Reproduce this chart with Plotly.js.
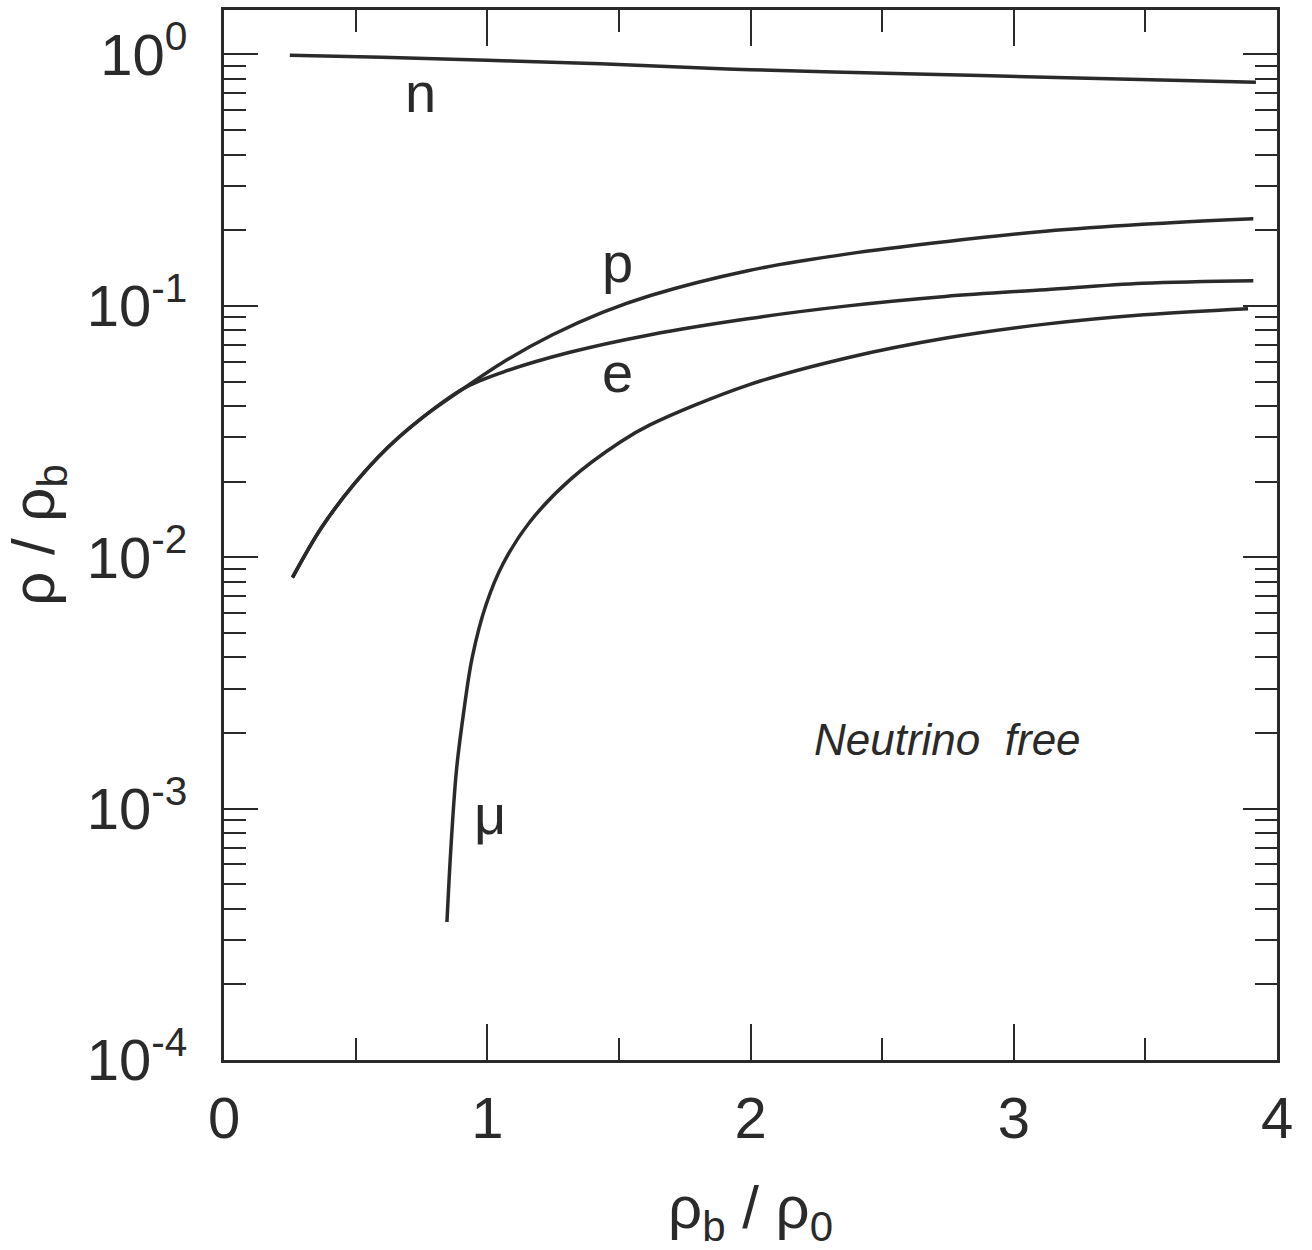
<!DOCTYPE html>
<html>
<head>
<meta charset="utf-8">
<script src="https://cdn.plot.ly/plotly-3.0.1.min.js"></script>
<style>
  html, body { margin: 0; padding: 0; background: #ffffff; }
  #chart { width: 1312px; height: 1250px; }
</style>
</head>
<body>
<div id="chart"></div>
<script>
// ---- data ----
const nX  = [0.25, 0.6, 1.0, 1.43, 2.0, 2.63, 3.2, 3.92];
const nY  = [0.993, 0.975, 0.949, 0.918, 0.870, 0.837, 0.808, 0.776];

const pX  = [0.26, 0.37, 0.49, 0.62, 0.75, 0.91, 1.06, 1.25, 1.44, 1.62, 1.99, 2.37, 2.74, 3.12, 3.49, 3.91];
const pY  = [0.0083, 0.0131, 0.0193, 0.0272, 0.0357, 0.0469, 0.0597, 0.0769, 0.0944, 0.110, 0.138, 0.161, 0.180, 0.198, 0.211, 0.222];

const eX  = [0.26, 0.37, 0.49, 0.62, 0.75, 0.91, 1.06, 1.31, 1.62, 1.99, 2.37, 2.74, 3.12, 3.49, 3.91];
const eY  = [0.0083, 0.0131, 0.0193, 0.0272, 0.0357, 0.0469, 0.0545, 0.0652, 0.0768, 0.0889, 0.100, 0.109, 0.116, 0.123, 0.126];

const muX = [0.847, 0.862, 0.883, 0.910, 0.943, 0.996, 1.060, 1.163, 1.316, 1.507, 1.618, 1.993, 2.369, 2.744, 3.12, 3.494, 3.89];
const muY = [3.54e-4, 7.0e-4, 1.42e-3, 2.40e-3, 4.0e-3, 6.5e-3, 9.42e-3, 0.01387, 0.0204, 0.0288, 0.0336, 0.0485, 0.0622, 0.0745, 0.0846, 0.0922, 0.0975];

// curve labels (text, x, y)
const labelText = ["n", "p", "e", "\u03bc"];
const labelX    = [0.748, 1.493, 1.493, 1.011];
const labelY    = [0.709, 0.149, 0.0543, 9.5e-4];

const noteText = "Neutrino\u00a0 free";
const noteX = 2.75;
const noteY = 1.88e-3;

const yTickVals = [1e-4, 1e-3, 1e-2, 1e-1, 1];
const yTickText = ["10<sup>-4</sup>", "10<sup>-3</sup>", "10<sup>-2</sup>", "10<sup>-1</sup>", "10<sup>0</sup>"];
const xTickVals = [0, 1, 2, 3, 4];
const xTickText = ["0", "1", "2", "3", "4"];

// ---- styling ----
const ink = "#2a2a2a";
const fontFam = "Liberation Sans, Arial, Helvetica, sans-serif";

function curve(x, y) {
  return {
    x: x, y: y, type: "scatter", mode: "lines",
    line: { color: ink, width: 3.5, shape: "spline", smoothing: 1.0 },
    hoverinfo: "skip", showlegend: false
  };
}

const traces = [curve(nX, nY), curve(pX, pY), curve(eX, eY), curve(muX, muY)];

const annotations = labelText.map((t, i) => ({
  x: labelX[i], y: Math.log10(labelY[i]), xref: "x", yref: "y",
  text: t, showarrow: false, xanchor: "center", yanchor: "middle",
  font: { family: fontFam, size: 56, color: ink }
}));
annotations.push({
  x: noteX, y: Math.log10(noteY), xref: "x", yref: "y",
  text: "<i>" + noteText + "</i>", showarrow: false, xanchor: "center", yanchor: "middle",
  font: { family: fontFam, size: 44, color: ink }
});

const layout = {
  width: 1312, height: 1250,
  margin: { l: 224, r: 35, t: 10, b: 190 },
  paper_bgcolor: "#ffffff", plot_bgcolor: "#ffffff",
  font: { family: fontFam, color: ink },
  showlegend: false,
  xaxis: {
    type: "linear", range: [0, 4],
    showgrid: false, zeroline: false,
    showline: true, linecolor: ink, linewidth: 3, mirror: "allticks",
    ticks: "inside", ticklen: 36, tickwidth: 2, tickcolor: ink,
    tickmode: "array", tickvals: xTickVals, ticktext: xTickText,
    tickfont: { family: fontFam, size: 58, color: ink },
    ticklabelstandoff: 5,
    minor: { dtick: 0.5, ticks: "inside", ticklen: 22, tickwidth: 2, tickcolor: ink, showgrid: false },
    title: { text: "\u03c1<sub>b</sub> / \u03c1<sub>0</sub>", font: { family: fontFam, size: 60, color: ink }, standoff: 43 }
  },
  yaxis: {
    type: "log", range: [-4.0, 0.177],
    showgrid: false, zeroline: false,
    showline: true, linecolor: ink, linewidth: 3, mirror: "allticks",
    ticks: "inside", ticklen: 34, tickwidth: 2, tickcolor: ink,
    tickmode: "array", tickvals: yTickVals, ticktext: yTickText,
    tickfont: { family: fontFam, size: 58, color: ink },
    ticklabelstandoff: 22,
    minor: { dtick: "D1", ticks: "inside", ticklen: 22, tickwidth: 2, tickcolor: ink, showgrid: false },
    title: { text: "\u03c1 / \u03c1<sub>b</sub>", font: { family: fontFam, size: 60, color: ink }, standoff: 26 }
  },
  annotations: annotations
};

Plotly.newPlot("chart", traces, layout, { displayModeBar: false, staticPlot: true });
</script>
</body>
</html>
